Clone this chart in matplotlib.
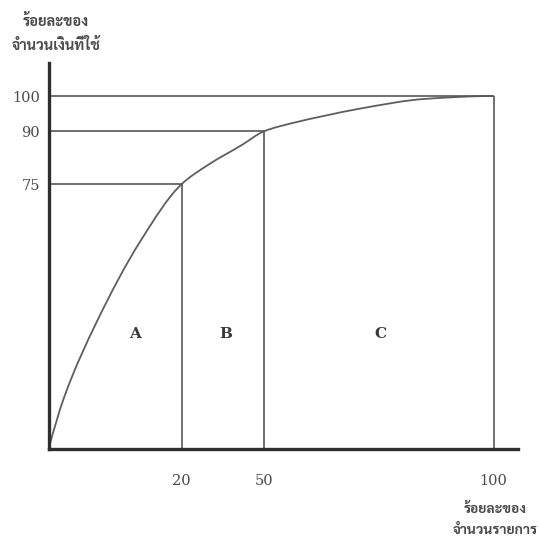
import numpy as np
import matplotlib
matplotlib.use("Agg")
import matplotlib.pyplot as plt
from matplotlib import font_manager
from matplotlib.path import Path
from matplotlib.patches import PathPatch

# ---- data ----
curve_x = [0, 2.38, 7.25, 13.76, 20, 29.7, 41.9, 50, 56.4, 63.6, 70.8, 85.3, 100]
curve_y = [0, 14.8, 36.0, 58.7, 75, 80.5, 86.1, 90, 92.4, 94.5, 96.4, 99.2, 100]
cut_x = [20, 50, 100]
cut_y = [75, 90, 100]
x_ticks = [20, 50, 100]
y_ticks = [75, 90, 100]
class_labels = ["A", "B", "C"]
class_x = [13.0, 36, 75.4]
class_y = [32.5, 32.5, 32.5]
y_title = "ร้อยละของ\nจำนวนเงินที่ใช้"
x_title = "ร้อยละของ\nจำนวนรายการ"


def find_thai_font():
    try:
        from fontTools.ttLib import TTFont
    except Exception:
        return "DejaVu Sans"
    names = []
    for f in font_manager.fontManager.ttflist:
        try:
            tt = TTFont(f.fname, fontNumber=0, lazy=True)
            cmap = tt.getBestCmap()
            if cmap and ord("ร") in cmap and ord("้") in cmap:
                names.append(f.name)
        except Exception:
            pass
    if not names:
        return "DejaVu Sans"
    prefs = ["Sarabun", "Noto Serif Thai", "Loma", "Garuda", "Norasi",
             "Kinnari", "Tlwg", "Looped", "Serif"]
    for p in prefs:
        for n in names:
            if p.lower() in n.lower():
                return n
    return names[0]


thai_font = find_thai_font()

# piecewise-linear schematic x scale
_xd = [-50, 0, 20, 50, 100, 200]
_xp = [-332, 0, 133, 215.5, 445, 904]


def fwd(x):
    return np.interp(x, _xd, _xp)


def inv(p):
    return np.interp(p, _xp, _xd)


def pchip_slopes(x, y):
    h = np.diff(x)
    d = np.diff(y) / h
    n = len(x)
    m = np.zeros(n)
    for k in range(1, n - 1):
        if d[k - 1] * d[k] <= 0:
            m[k] = 0.0
        else:
            w1 = 2 * h[k] + h[k - 1]
            w2 = h[k] + 2 * h[k - 1]
            m[k] = (w1 + w2) / (w1 / d[k - 1] + w2 / d[k])

    def end(h0, h1, d0, d1):
        s = ((2 * h0 + h1) * d0 - h0 * d1) / (h0 + h1)
        if np.sign(s) != np.sign(d0):
            s = 0.0
        elif np.sign(d0) != np.sign(d1) and abs(s) > abs(3 * d0):
            s = 3 * d0
        return s

    m[0] = end(h[0], h[1], d[0], d[1])
    m[-1] = end(h[-1], h[-2], d[-1], d[-2])
    return m


W, H = 539, 539
x0, y0 = 48.5, 449
fig = plt.figure(figsize=(W / 100, H / 100), dpi=100)
ax = fig.add_axes([x0 / W, (H - y0) / H, (518 - x0) / W, (y0 - 63) / H])
ax.set_xscale("function", functions=(fwd, inv))
ax.set_xlim(0, float(inv(518 - x0)))
ax.set_ylim(0, (y0 - 63) / 3.53)

line_col = "#5a5656"
for xv, yv in zip(cut_x, cut_y):
    ax.plot([0, xv], [yv, yv], color=line_col, lw=1.2, solid_capstyle="butt")
    ax.plot([xv, xv], [0, yv], color=line_col, lw=1.2, solid_capstyle="butt")

# smooth monotone curve through the read points (cubic Bezier segments),
# built in the axes' scaled space so it follows the x scale
sx = fwd(np.array(curve_x, float))
sy = np.array(curve_y, float)
m = pchip_slopes(sx, sy)
verts = [(sx[0], sy[0])]
codes = [Path.MOVETO]
for k in range(len(sx) - 1):
    hk = sx[k + 1] - sx[k]
    verts += [(sx[k] + hk / 3, sy[k] + m[k] * hk / 3),
              (sx[k + 1] - hk / 3, sy[k + 1] - m[k + 1] * hk / 3),
              (sx[k + 1], sy[k + 1])]
    codes += [Path.CURVE4] * 3
ax.add_patch(PathPatch(Path(verts, codes), facecolor="none",
                       edgecolor="#5e5e5e", lw=1.3,
                       transform=ax.transLimits + ax.transAxes))

for lab, xv, yv in zip(class_labels, class_x, class_y):
    ax.text(xv, yv, lab, ha="center", va="center", fontsize=11,
            fontweight="bold", family="DejaVu Serif", color="#3a3a3a")

for s in ["top", "right"]:
    ax.spines[s].set_visible(False)
for s in ["left", "bottom"]:
    ax.spines[s].set_linewidth(2.4)
    ax.spines[s].set_color("#2e2e30")

ax.set_xticks(x_ticks)
ax.set_xticklabels([str(v) for v in x_ticks])
ax.set_yticks(y_ticks)
ax.set_yticklabels([str(v) for v in y_ticks])
ax.tick_params(length=0, labelsize=10.5, colors="#4a4a4a")
ax.tick_params(axis="x", pad=18)
ax.tick_params(axis="y", pad=6)
for t in ax.get_xticklabels() + ax.get_yticklabels():
    t.set_family("DejaVu Serif")
ax.set_facecolor("none")

fig.text(56 / W, 1 - 34 / H, y_title, ha="center", va="center", fontsize=10.5,
         fontweight="bold", family=[thai_font, "DejaVu Sans"], color="#4a4a4a",
         linespacing=1.75)
fig.text(495 / W, 1 - 520 / H, x_title, ha="center", va="center", fontsize=10,
         fontweight="bold", family=[thai_font, "DejaVu Sans"], color="#4a4a4a",
         linespacing=1.8)

fig.savefig("out.png", dpi=100)
